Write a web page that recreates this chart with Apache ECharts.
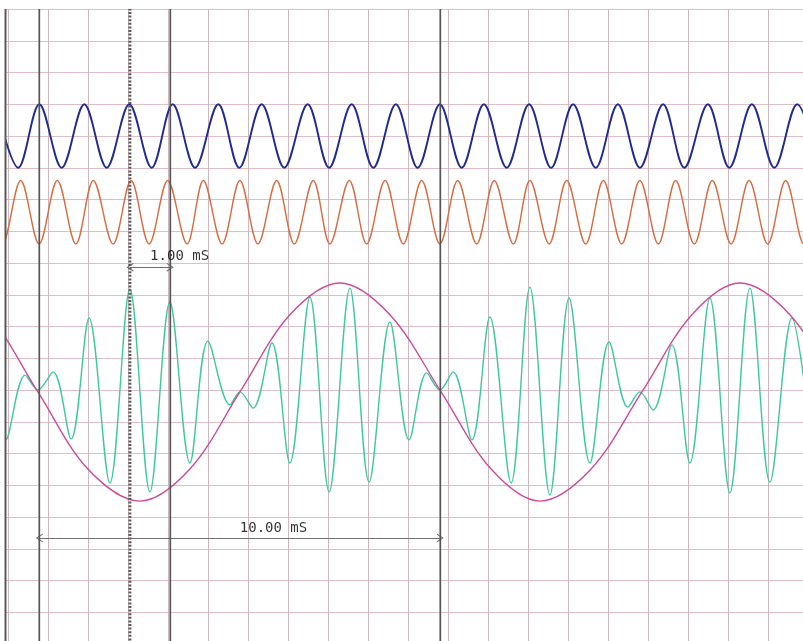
<!DOCTYPE html>
<html>
<head>
<meta charset="utf-8">
<script src="https://cdn.jsdelivr.net/npm/echarts@6/dist/echarts.min.js"></script>
<style>
html,body{margin:0;padding:0;background:#fff;}
#chart{width:803px;height:641px;}
</style>
</head>
<body>
<div id="chart"></div>
<script>
// time in ms (1 grid division = 1 ms), level in grid divisions (0 = bottom)
const blueT = [-0.31, 0.25, 0.775, 1.335, 1.90, 2.46, 3.025, 3.585, 4.11, 4.67, 5.25, 5.775, 6.335, 6.90, 7.485, 8.02, 8.585, 9.125, 9.69, 10.235, 10.79, 11.335, 11.89, 12.46, 13.02, 13.57, 14.12, 14.685, 15.24, 15.79, 16.37, 16.90, 17.49, 18.025, 18.59, 19.15, 19.72, 20.27];
const blueV = [17, 15, 17, 15, 17, 15, 17, 15, 17, 15, 17, 15, 17, 15, 17, 15, 17, 15, 17, 15, 17, 15, 17, 15, 17, 15, 17, 15, 17, 15, 17, 15, 17, 15, 17, 15, 17, 15];

const orangeT = [-0.58, -0.145, 0.31, 0.77, 1.225, 1.69, 2.125, 2.62, 3.07, 3.52, 3.985, 4.47, 4.875, 5.345, 5.79, 6.24, 6.71, 7.15, 7.625, 8.04, 8.525, 8.96, 9.42, 9.875, 10.335, 10.79, 11.235, 11.71, 12.15, 12.625, 13.04, 13.52, 13.96, 14.435, 14.875, 15.335, 15.79, 16.25, 16.685, 17.15, 17.60, 18.07, 18.52, 18.985, 19.435, 19.89, 20.34];
const orangeV = [14.6, 12.6, 14.6, 12.6, 14.6, 12.6, 14.6, 12.6, 14.6, 12.6, 14.6, 12.6, 14.6, 12.6, 14.6, 12.6, 14.6, 12.6, 14.6, 12.6, 14.6, 12.6, 14.6, 12.6, 14.6, 12.6, 14.6, 12.6, 14.6, 12.6, 14.6, 12.6, 14.6, 12.6, 14.6, 12.6, 14.6, 12.6, 14.6, 12.6, 14.6, 12.6, 14.6, 12.6, 14.6, 12.6, 14.6];

const greenT = [-0.53, -0.06, 0.42, 0.74, 1.12, 1.57, 2.02, 2.54, 3.04, 3.54, 4.04, 4.54, 4.99, 5.54, 5.79, 6.12, 6.59, 7.04, 7.54, 8.02, 8.54, 9.02, 9.54, 10.02, 10.46, 10.79, 11.12, 11.59, 12.04, 12.57, 13.04, 13.54, 14.02, 14.54, 15.02, 15.49, 15.79, 16.12, 16.59, 17.04, 17.54, 18.04, 18.54, 19.04, 19.59, 20.07];
const greenV = [10.14, 6.43, 8.47, 8.0, 8.57, 6.46, 10.27, 5.07, 11.18, 4.79, 10.77, 5.70, 9.54, 7.53, 7.94, 7.43, 9.48, 5.70, 10.93, 4.79, 11.21, 5.10, 10.14, 6.43, 8.54, 8.0, 8.57, 6.43, 10.30, 5.07, 11.24, 4.69, 10.90, 5.70, 9.51, 7.46, 7.94, 7.37, 9.42, 5.70, 10.90, 4.76, 11.21, 5.10, 10.27, 6.43];

const envT = [-1.76, -0.51, 0.74, 1.99, 3.29, 4.54, 5.79, 7.04, 8.29, 9.54, 10.82, 12.07, 13.29, 14.57, 15.84, 17.09, 18.29, 19.54, 20.79];
const envV = [11.37, 10.37, 7.94, 5.51, 4.50, 5.51, 7.94, 10.37, 11.37, 10.37, 7.94, 5.51, 4.50, 5.51, 7.94, 10.37, 11.37, 10.37, 7.94];

const cursorT = [0.775, 3.04, 4.05, 10.80];
const cursorDotted = [false, true, false, false];

const measureFrom = [1, 0];      // cursor index
const measureTo = [2, 3];        // cursor index
const measureLevel = [11.87, 3.34];
const measureText = ['1.00 mS', '10.00 mS'];
const measureTextLevel = [12.22, 3.65];

function pairs(t, v) { return t.map((x, i) => [x, v[i]]); }

const chevron = 'path://M0,10 L5,0 L10,10 L8.6,10 L5,2.6 L1.4,10 Z';

const series = [];
function wave(name, t, v, color, width) {
  series.push({
    name, type: 'line', data: pairs(t, v), smooth: 0.34, showSymbol: false,
    symbol: 'none', lineStyle: { color, width }, silent: true, z: 3
  });
}
wave('blue', blueT, blueV, '#1f2b8f', 1.9);
wave('orange', orangeT, orangeV, '#d86a40', 1.4);
wave('green', greenT, greenV, '#3cc99d', 1.4);
wave('envelope', envT, envV, '#cc4a9c', 1.4);

cursorT.forEach((c, i) => {
  series.push({
    type: 'line', data: [[c, 0], [c, 20]], symbol: 'none', silent: true, z: 5,
    lineStyle: cursorDotted[i]
      ? { color: '#5a5a5a', width: 3, type: [2, 1.6] }
      : { color: '#555555', width: 1.7 }
  });
});

series.push({
  type: 'line', data: [], silent: true, z: 6,
  markLine: {
    silent: true, animation: false,
    symbol: [chevron, chevron], symbolSize: [9, 7],
    label: { show: false },
    lineStyle: { color: '#707070', width: 1, type: 'solid' },
    data: measureLevel.map((lv, i) => [
      { coord: [cursorT[measureFrom[i]], lv] },
      { coord: [cursorT[measureTo[i]], lv] }
    ])
  }
});

series.push({
  type: 'scatter', symbolSize: 0, silent: true, z: 7,
  data: measureText.map((txt, i) => ({
    name: txt,
    value: [(cursorT[measureFrom[i]] + cursorT[measureTo[i]]) / 2, measureTextLevel[i]]
  })),
  label: {
    show: true, position: 'right', distance: 0,
    formatter: p => p.name,
    color: '#000000', fontFamily: 'DejaVu Sans Mono', fontSize: 14
  }
});

const chart = echarts.init(document.getElementById('chart'), null, { renderer: 'canvas' });
chart.setOption({
  animation: false,
  backgroundColor: '#ffffff',
  grid: { left: -31.7, top: 9, width: 840, height: 635, outerBoundsMode: 'none', containLabel: false },
  xAxis: {
    type: 'value', min: -1, max: 20, interval: 1,
    axisLine: { show: false }, axisTick: { show: false }, axisLabel: { show: false },
    splitLine: { show: true, lineStyle: { color: '#cfb8bd', width: 1 } }
  },
  yAxis: {
    type: 'value', min: 0, max: 20, interval: 1,
    axisLine: { show: false }, axisTick: { show: false }, axisLabel: { show: false },
    splitLine: { show: true, lineStyle: { color: '#e0bec6', width: 1 } }
  },
  graphic: [
    { type: 'rect', z: 100, shape: { x: 0, y: 0, width: 5, height: 641 }, style: { fill: '#ffffff' } },
    { type: 'rect', z: 100, shape: { x: 0, y: 0, width: 803, height: 8.5 }, style: { fill: '#ffffff' } },
    { type: 'line', z: 101, shape: { x1: 5.5, y1: 9, x2: 5.5, y2: 641 }, style: { stroke: '#5a5a5a', lineWidth: 2 } }
  ],
  series
});
</script>
</body>
</html>
